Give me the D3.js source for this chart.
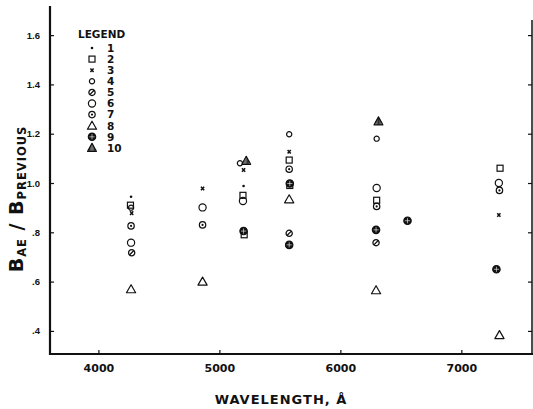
<!DOCTYPE html>
<html>
<head>
<meta charset="utf-8">
<script src="https://cdn.jsdelivr.net/npm/d3@7"></script>
<style>
  html, body { margin: 0; padding: 0; background: #fff; }
  svg { display: block; }
</style>
</head>
<body>
<svg id="chart" width="533" height="409"></svg>
<script>
// Axis ticks
const xTicks = [4000, 5000, 6000, 7000];
const yTicks = [0.4, 0.6, 0.8, 1.0, 1.2, 1.4, 1.6];
const yTickLabels = [".4", ".6", ".8", "1.0", "1.2", "1.4", "1.6"];
const legendLabels = ["1", "2", "3", "4", "5", "6", "7", "8", "9", "10"];

// Ratio B(AE)/B(previous) by wavelength, one array per legend entry
const s1 = [[4270, 0.944], [5200, 0.988]];
const s2 = [[4265, 0.91], [5195, 0.95], [5205, 0.79], [5577, 1.093], [5582, 0.99], [6300, 0.93], [7320, 1.06]];
const s3 = [[4275, 0.878], [4861, 0.978], [5200, 1.053], [5577, 1.127], [7310, 0.87]];
const s4 = [[4270, 0.90], [5170, 1.08], [5577, 1.198], [6300, 1.18]];
const s5 = [[4275, 0.717], [5577, 0.796], [6295, 0.758]];
const s6 = [[4270, 0.758], [4861, 0.901], [5195, 0.927], [6300, 0.98], [7310, 1.00]];
const s7 = [[4270, 0.826], [4861, 0.83], [5577, 1.056], [6300, 0.905], [7315, 0.97]];
const s8 = [[4270, 0.569], [4861, 0.60], [5577, 0.934], [6295, 0.565], [7315, 0.383]];
const s9 = [[5200, 0.805], [5582, 0.998], [5577, 0.749], [6295, 0.81], [6555, 0.847], [7290, 0.65]];
const s10 = [[5222, 1.09], [6315, 1.25]];
const seriesList = [s1, s2, s3, s4, s5, s6, s7, s8, s9, s10];

const svg = d3.select("#chart");
const plotL = 50, plotR = 532, plotT = 20, plotB = 354;

const x = d3.scaleLinear().domain([3600, 7584]).range([plotL, plotR]);
const y = d3.scaleLinear().domain([0.3063, 1.6613]).range([plotB, plotT]);

const ink = "#111";

// Marker glyphs for the ten sources
function marker(g, k, cx, cy) {
  const m = g.append("g").attr("transform", `translate(${cx},${cy})`)
    .attr("fill", "none").attr("stroke", ink).attr("stroke-width", 1.2);
  switch (k) {
    case 1:
      m.append("circle").attr("r", 1.3).attr("fill", ink).attr("stroke", "none");
      break;
    case 2:
      m.append("rect").attr("x", -3).attr("y", -3).attr("width", 6).attr("height", 6);
      break;
    case 3:
      m.append("path").attr("d", "M-1.6,-1.8L1.6,1.8M1.6,-1.8L-1.6,1.8").attr("stroke-width", 1.5);
      break;
    case 4:
      m.append("circle").attr("r", 2.6);
      break;
    case 5:
      m.append("circle").attr("r", 3.1).attr("stroke-width", 1.3);
      m.append("path").attr("d", "M-2.2,2.2L2.2,-2.2").attr("stroke-width", 1.3);
      break;
    case 6:
      m.append("circle").attr("r", 3.6);
      break;
    case 7:
      m.append("circle").attr("r", 3.2);
      m.append("circle").attr("r", 1.1).attr("fill", ink).attr("stroke", "none");
      break;
    case 8:
      m.append("path").attr("d", "M0,-4.5L4.6,3.5L-4.6,3.5Z").attr("stroke-linejoin", "round");
      break;
    case 9:
      m.append("circle").attr("r", 3.7).attr("fill", ink);
      m.append("path").attr("d", "M-2.6,0L2.6,0M0,-2.6L0,2.6").attr("stroke", "#fff").attr("stroke-width", 0.6);
      break;
    case 10: {
      m.append("path").attr("d", "M0,-4.5L4.4,3.5L-4.4,3.5Z").attr("stroke-linejoin", "round");
      const slope = 8 / 4.4;
      [-2.4, -1.2, 0, 1.2, 2.4].forEach(hx => {
        const yt = -4.5 + Math.abs(hx) * slope;
        m.append("line").attr("x1", hx).attr("x2", hx).attr("y1", 3.5).attr("y2", yt).attr("stroke-width", 0.9);
      });
      break;
    }
  }
}

// Axes: ticks pointing into the plot
const yAxis = d3.axisLeft(y).tickValues(yTicks)
  .tickFormat((d, i) => yTickLabels[i])
  .tickSizeInner(-4).tickSizeOuter(0).tickPadding(10);
const gy = svg.append("g").attr("transform", `translate(${plotL},0)`).call(yAxis);
gy.select(".domain").remove();
gy.selectAll(".tick line").attr("stroke", ink).attr("stroke-width", 1.2);
gy.selectAll(".tick text").attr("fill", ink)
  .style("font-family", "'Liberation Sans', Arial, sans-serif")
  .style("font-weight", "bold").style("font-size", "9.5px");

const yAxisR = d3.axisRight(y).tickValues(yTicks).tickFormat("")
  .tickSizeInner(-4).tickSizeOuter(0);
const gyr = svg.append("g").attr("transform", `translate(${plotR},0)`).call(yAxisR);
gyr.select(".domain").remove();
gyr.selectAll(".tick line").attr("stroke", ink).attr("stroke-width", 1.2);

const xAxis = d3.axisBottom(x).tickValues(xTicks).tickFormat(d3.format("d"))
  .tickSizeInner(-4).tickSizeOuter(0).tickPadding(10);
const gx = svg.append("g").attr("transform", `translate(0,${plotB})`).call(xAxis);
gx.select(".domain").remove();
gx.selectAll(".tick line").attr("stroke", ink).attr("stroke-width", 1.2);
gx.selectAll(".tick text").attr("fill", ink)
  .style("font-family", "'DejaVu Sans', sans-serif")
  .style("font-weight", "bold").style("font-size", "11px");

// Frame lines
svg.append("line").attr("x1", plotL).attr("x2", plotL).attr("y1", 6).attr("y2", plotB + 1)
  .attr("stroke", ink).attr("stroke-width", 2.2);
svg.append("line").attr("x1", plotL - 1).attr("x2", plotR + 1).attr("y1", plotB).attr("y2", plotB)
  .attr("stroke", ink).attr("stroke-width", 2);
svg.append("line").attr("x1", plotR).attr("x2", plotR).attr("y1", plotT).attr("y2", plotB)
  .attr("stroke", ink).attr("stroke-width", 1.5);

// Data points
const gp = svg.append("g");
seriesList.forEach((s, i) => {
  s.forEach(([w, v]) => marker(gp, i + 1, x(w), y(v)));
});

// Legend
const gl = svg.append("g");
gl.append("text").attr("x", 78).attr("y", 38).text("LEGEND")
  .attr("fill", ink).style("font-family", "'DejaVu Sans', sans-serif")
  .style("font-weight", "bold").style("font-size", "10.5px");
legendLabels.forEach((lab, i) => {
  const ly = 48 + i * 11.1;
  marker(gl, i + 1, 92, ly);
  gl.append("text").attr("x", 107).attr("y", ly + 3.8).text(lab)
    .attr("fill", ink).style("font-family", "'DejaVu Sans', sans-serif")
    .style("font-weight", "bold").style("font-size", "10.5px");
});

// Axis titles
svg.append("text").attr("x", 281).attr("y", 404).attr("text-anchor", "middle")
  .text("WAVELENGTH, Å").attr("fill", ink)
  .style("font-family", "'DejaVu Sans', sans-serif").style("font-weight", "bold")
  .style("font-size", "13px").style("letter-spacing", "1px");

const yTitle = svg.append("text")
  .attr("transform", "translate(23,199) rotate(-90)")
  .attr("text-anchor", "middle").attr("fill", ink)
  .style("font-family", "'DejaVu Sans', sans-serif").style("font-weight", "bold")
  .style("letter-spacing", "1px");
yTitle.append("tspan").style("font-size", "19px").text("B");
yTitle.append("tspan").style("font-size", "11.5px").attr("dy", 2.5).text("AE");
yTitle.append("tspan").style("font-size", "19px").attr("dy", -2.5).text(" / B");
yTitle.append("tspan").style("font-size", "11.5px").attr("dy", 2.5).text("PREVIOUS");
</script>
</body>
</html>
